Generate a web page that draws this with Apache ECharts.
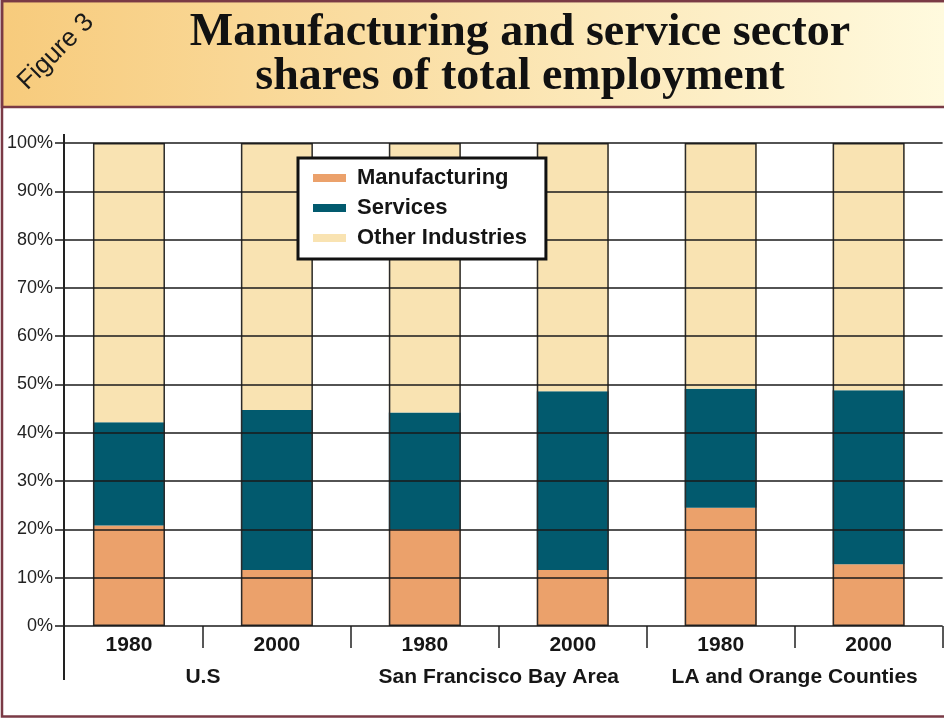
<!DOCTYPE html>
<html>
<head>
<meta charset="utf-8">
<script src="https://cdn.jsdelivr.net/npm/echarts@6/dist/echarts.min.js"></script>
<style>
html,body{margin:0;padding:0;background:#fff;}
#chart{width:944px;height:719px;}
</style>
</head>
<body>
<div id="chart"></div>
<script>
// ---- data (percent of total employment) ----
var years = ['1980', '2000', '1980', '2000', '1980', '2000'];
var regions = ['U.S', 'San Francisco Bay Area', 'LA and Orange Counties'];
var manufacturing = [20.8, 11.6, 20.0, 11.6, 24.5, 12.8];
var services = [21.4, 33.1, 24.2, 37.0, 24.6, 36.0];
var otherIndustries = [57.8, 55.3, 55.8, 51.4, 50.9, 51.2];
var yTicks = [0, 10, 20, 30, 40, 50, 60, 70, 80, 90, 100];

var totals = years.map(function (_, i) {
  return manufacturing[i] + services[i] + otherIndustries[i];
});

var chart = echarts.init(document.getElementById('chart'), null, {renderer: 'canvas'});
var sans = '"Liberation Sans", Arial, sans-serif';
var maroon = '#7a3a45';

var option = {
  backgroundColor: '#ffffff',
  animation: false,
  title: {
    text: 'Manufacturing and service sector\nshares of total employment',
    left: 515,
    top: 6,
    textAlign: 'center',
    textStyle: {
      fontFamily: '"Liberation Serif", "Times New Roman", serif',
      fontWeight: 'bold',
      fontSize: 46,
      lineHeight: 44,
      color: '#111111'
    },
    z: 10
  },
  legend: {
    data: ['Manufacturing', 'Services', 'Other Industries'],
    orient: 'vertical',
    left: 298,
    top: 158,
    icon: 'rect',
    itemWidth: 33,
    itemHeight: 8,
    itemGap: 8,
    padding: [9, 19, 10, 15],
    backgroundColor: '#ffffff',
    borderColor: '#111111',
    borderWidth: 3,
    textStyle: {
      fontFamily: sans,
      fontWeight: 'bold',
      fontSize: 22,
      lineHeight: 22,
      color: '#151515',
      padding: [0, 0, 0, 6]
    },
    z: 20
  },
  grid: {
    left: 55,
    right: 1.4,
    top: 143,
    bottom: 93,
    containLabel: false
  },
  xAxis: [
    {
      type: 'category',
      data: years,
      position: 'bottom',
      axisLine: {show: false},
      axisTick: {
        show: true,
        interval: function (index) { return index > 0; },
        length: 22,
        lineStyle: {color: '#222222', width: 1.5}
      },
      axisLabel: {
        interval: 0,
        margin: 9,
        fontFamily: sans,
        fontWeight: 'bold',
        fontSize: 21,
        lineHeight: 21,
        color: '#161616'
      },
      splitLine: {show: false}
    },
    {
      type: 'category',
      data: regions,
      position: 'bottom',
      gridIndex: 0,
      axisLine: {show: false},
      axisTick: {show: false},
      axisLabel: {
        interval: 0,
        hideOverlap: false,
        margin: 41,
        fontFamily: sans,
        fontWeight: 'bold',
        fontSize: 21,
        lineHeight: 21,
        color: '#161616'
      },
      splitLine: {show: false}
    }
  ],
  yAxis: {
    type: 'value',
    min: 0,
    max: 100,
    interval: 10,
    z: 5,
    axisLine: {show: false},
    axisTick: {show: false},
    axisLabel: {
      margin: 2,
      formatter: '{value}%',
      fontFamily: sans,
      fontSize: 18,
      color: '#222222'
    },
    splitLine: {
      show: true,
      lineStyle: {color: '#1a1a1a', width: 1.6}
    }
  },
  series: [
    {
      name: 'Manufacturing',
      type: 'bar',
      stack: 'share',
      barWidth: 72,
      data: manufacturing,
      itemStyle: {color: '#eba16b', borderWidth: 0}
    },
    {
      name: 'Services',
      type: 'bar',
      stack: 'share',
      barWidth: 72,
      data: services,
      itemStyle: {color: '#025a6e', borderWidth: 0}
    },
    {
      name: 'Other Industries',
      type: 'bar',
      stack: 'share',
      barWidth: 72,
      data: otherIndustries,
      itemStyle: {color: '#f9e3b2', borderWidth: 0}
    },
    {
      name: 'outline',
      type: 'bar',
      barWidth: 72,
      barGap: '-100%',
      data: totals,
      silent: true,
      z: 3,
      itemStyle: {color: 'rgba(0,0,0,0)', borderColor: '#2b2b2b', borderWidth: 1.5}
    }
  ],
  graphic: [
    {
      type: 'rect',
      z: -10,
      silent: true,
      shape: {x: 2, y: 1, width: 960, height: 106},
      style: {
        fill: new echarts.graphic.LinearGradient(0, 0, 1, 0, [
          {offset: 0, color: '#f7cb7c'},
          {offset: 1, color: '#fffbe0'}
        ]),
        stroke: maroon,
        lineWidth: 2.5
      }
    },
    {
      type: 'rect',
      z: 50,
      silent: true,
      shape: {x: 2, y: 1, width: 960, height: 715.5},
      style: {fill: 'none', stroke: maroon, lineWidth: 2.5}
    },
    {
      type: 'text',
      z: 50,
      silent: true,
      x: 56,
      y: 52,
      rotation: Math.PI / 4,
      style: {
        text: 'Figure 3',
        fontFamily: sans,
        fontSize: 26,
        fill: '#1a1a1a',
        textAlign: 'center',
        textVerticalAlign: 'middle'
      }
    },
    {
      type: 'line',
      z: 50,
      silent: true,
      shape: {x1: 64, y1: 134, x2: 64, y2: 680},
      style: {stroke: '#222222', lineWidth: 2}
    }
  ]
};

chart.setOption(option);
</script>
</body>
</html>
